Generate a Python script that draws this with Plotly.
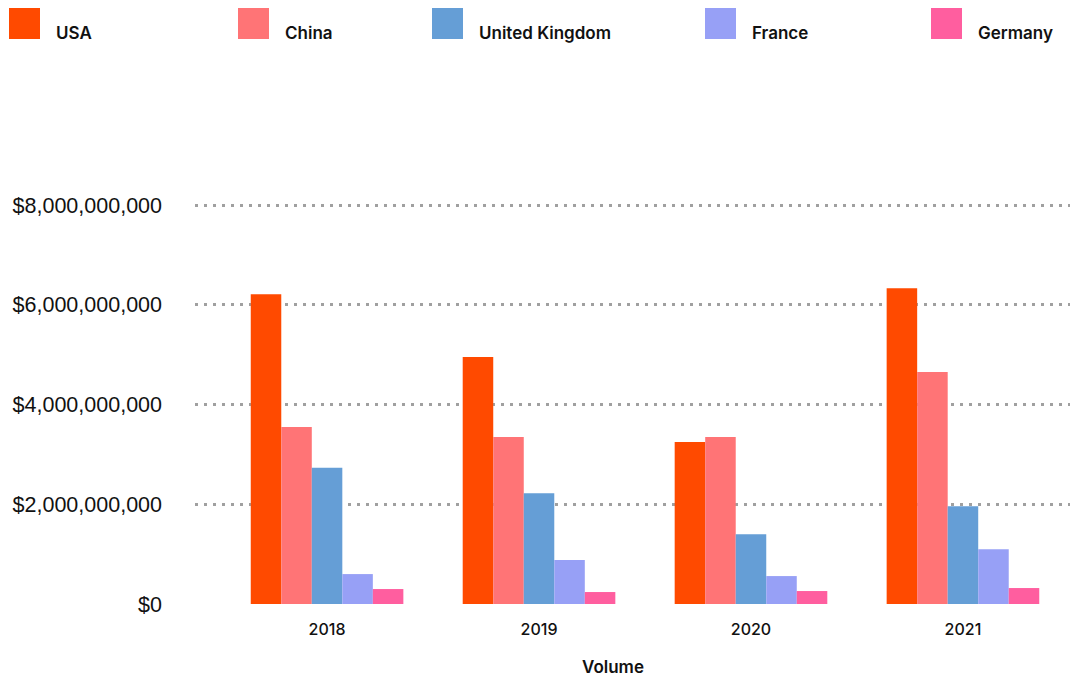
import plotly.graph_objects as go

years = ["2018", "2019", "2020", "2021"]
countries = ["USA", "China", "United Kingdom", "France", "Germany"]
usa = [6.21e9, 4.95e9, 3.25e9, 6.33e9]
china = [3.55e9, 3.35e9, 3.35e9, 4.65e9]
uk = [2.73e9, 2.22e9, 1.40e9, 1.96e9]
france = [0.60e9, 0.88e9, 0.56e9, 1.10e9]
germany = [0.30e9, 0.24e9, 0.26e9, 0.32e9]
series = [usa, china, uk, france, germany]
colors = ["#FF4A00", "#FF7476", "#659ED6", "#97A0F6", "#FF5E9F"]
y_ticks = [0, 2e9, 4e9, 6e9, 8e9]
y_tick_text = ["$0", "$2,000,000,000", "$4,000,000,000", "$6,000,000,000", "$8,000,000,000"]

W, H = 1073, 677
L, R, T, B = 195, 3, 185, 73
PW, PH = W - L - R, H - T - B


def px_x(x):
    return (x - L) / PW


def px_y(y):
    return (H - B - y) / PH


fig = go.Figure()
for name, vals, col in zip(countries, series, colors):
    fig.add_trace(go.Bar(x=years, y=vals, name=name, marker=dict(color=col, line=dict(width=0)),
                         showlegend=False))

# custom legend
sq_left = [9, 238, 432, 705, 931]
for name, col, xl in zip(countries, colors, sq_left):
    fig.add_shape(type="rect", xref="paper", yref="paper",
                  x0=px_x(xl), x1=px_x(xl + 31), y0=px_y(39), y1=px_y(8),
                  fillcolor=col, line=dict(width=0))
    fig.add_annotation(xref="paper", yref="paper", x=px_x(xl + 45), y=px_y(33),
                       xanchor="left", yanchor="middle", text=name, showarrow=False,
                       font=dict(family="Inter", size=17, color="#111111", weight=600))

fig.add_annotation(xref="paper", yref="paper", x=px_x(613), y=px_y(667),
                   xanchor="center", yanchor="middle", text="Volume", showarrow=False,
                   font=dict(family="Inter", size=17, color="#111111", weight=600))

fig.update_layout(
    width=W, height=H,
    margin=dict(l=L, r=R, t=T, b=B, pad=0),
    paper_bgcolor="white", plot_bgcolor="white",
    barmode="group", bargap=0.28, bargroupgap=0,
    xaxis=dict(range=[-0.623, 3.505], showgrid=False, zeroline=False, showline=False,
               ticks="", ticklabelstandoff=14,
               tickfont=dict(family="Inter", size=16, color="#111111", weight=500)),
    yaxis=dict(range=[0, 8e9 * PH / 399], tickvals=y_ticks, ticktext=y_tick_text,
               showgrid=True, gridcolor="#A0A0A0", gridwidth=3, griddash="3px,6px",
               zeroline=False, showline=False, ticks="", ticklabelstandoff=32,
               tickfont=dict(family="Liberation Sans", size=21.5, color="#111111")),
)

fig.write_html("out.html")
